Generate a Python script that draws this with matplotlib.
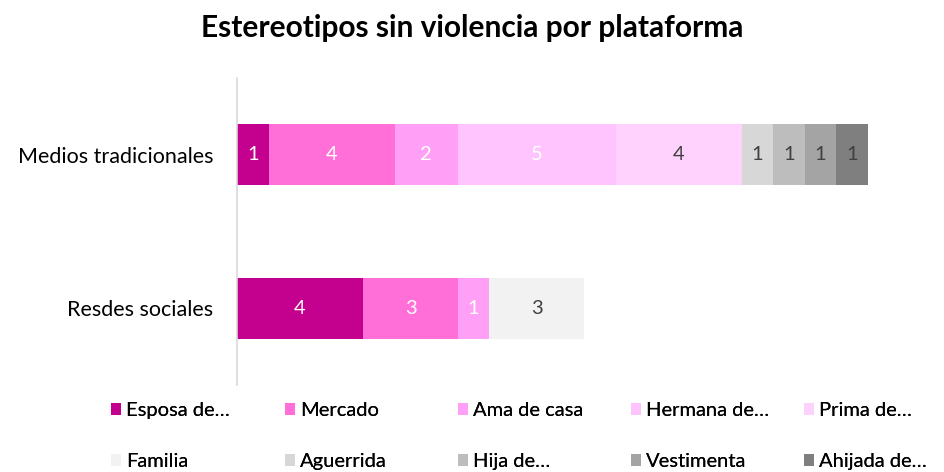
import matplotlib
matplotlib.use("Agg")
import matplotlib.pyplot as plt
from matplotlib.patches import Patch

plt.rcParams['font.family'] = ['Lato', 'DejaVu Sans']

categories = ["Medios tradicionales", "Resdes sociales"]
series = ["Esposa de…", "Mercado", "Ama de casa", "Hermana de…", "Prima de…",
          "Familia", "Aguerrida", "Hija de…", "Vestimenta", "Ahijada de…"]
values = {
    "Esposa de…":  [1, 4],
    "Mercado":     [4, 3],
    "Ama de casa": [2, 1],
    "Hermana de…": [5, 0],
    "Prima de…":   [4, 0],
    "Familia":     [0, 3],
    "Aguerrida":   [1, 0],
    "Hija de…":    [1, 0],
    "Vestimenta":  [1, 0],
    "Ahijada de…": [1, 0],
}
colors = ["#C4008E", "#FF6FD7", "#FF9FF5", "#FFC4FE", "#FFD2FD",
          "#F2F2F2", "#D7D7D7", "#BDBDBD", "#A4A4A4", "#7F7F7F"]
label_colors = ["white", "white", "white", "white", "#404040",
                "#404040", "#404040", "#404040", "#404040", "#404040"]

fig = plt.figure(figsize=(9.45, 4.72), dpi=100)
ax = fig.add_axes([0.2508, 0.1843, 0.9185 - 0.2508, 0.8347 - 0.1843])

ypos = [0, 1]
left = [0, 0]
handles = []
for s, c, lc in zip(series, colors, label_colors):
    vals = values[s]
    bars = ax.barh(ypos, vals, left=left, height=0.4, color=c, edgecolor='none')
    for b, v in zip(bars, vals):
        if v > 0:
            ax.text(b.get_x() + b.get_width() / 2, b.get_y() + b.get_height() / 2,
                    str(v), ha='center', va='center', color=lc, fontsize=14.5)
    left = [l + v for l, v in zip(left, vals)]
    handles.append(Patch(facecolor=c, edgecolor='none', label=s))

ax.set_xlim(0, 20)
ax.set_ylim(1.5, -0.5)
ax.set_yticks(ypos)
ax.set_yticklabels(categories, fontsize=15.5, color='#000000')
ax.set_xticks([])
for sp in ['top', 'right', 'bottom']:
    ax.spines[sp].set_visible(False)
ax.spines['left'].set_color('#D9D9D9')
ax.spines['left'].set_linewidth(1.2)
ax.tick_params(axis='y', length=0, pad=17)

fig.text(0.5, 0.94, "Estereotipos sin violencia por plataforma", ha='center', va='center',
         fontsize=21.5, fontweight='bold', color='#000000')

col_x = [111, 285, 458, 631, 804]
for j, x in enumerate(col_x):
    leg = fig.legend([handles[j], handles[j + 5]], [series[j], series[j + 5]],
                     loc='upper left', bbox_to_anchor=(x / 945, 1 - 402 / 472),
                     ncol=1, frameon=False, fontsize=14.5, borderpad=0, borderaxespad=0,
                     handlelength=0.5, handleheight=0.5, handletextpad=0.25,
                     labelspacing=1.7)
    fig.add_artist(leg)

fig.savefig("out.png", dpi=100)
